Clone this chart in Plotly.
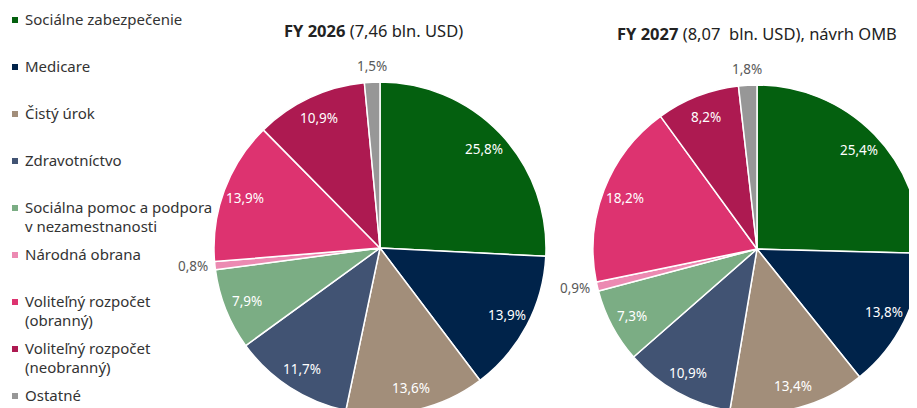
import math
import plotly.graph_objects as go

categories = [
    "Sociálne zabezpečenie",
    "Medicare",
    "Čistý úrok",
    "Zdravotníctvo",
    "Sociálna pomoc a podpora<br>v nezamestnanosti",
    "Národná obrana",
    "Voliteľný rozpočet<br>(obranný)",
    "Voliteľný rozpočet<br>(neobranný)",
    "Ostatné",
]
fy2026 = [25.8, 13.9, 13.6, 11.7, 7.9, 0.8, 13.9, 10.9, 1.5]
fy2027 = [25.4, 13.8, 13.4, 10.9, 7.3, 0.9, 18.2, 8.2, 1.8]
colors = ["#04600F", "#00234A", "#A28E7A", "#415373", "#7BAD84",
          "#EC8AB2", "#DD3370", "#AD1A51", "#979797"]
title_2026 = "<b>FY 2026</b> (7,46 bln. USD)"
title_2027 = "<b>FY 2027</b> (8,07  bln. USD), návrh OMB"

W, H = 917, 408
OFF = 8  # page body margin
FONT = "Noto Sans"


def fx(sx):
    return (sx - OFF) / W


def fy(sy):
    return 1 - (sy - OFF) / H


def dom(cx, cy, r):
    return dict(x=[max(0, fx(cx - r)), min(1, fx(cx + r))],
                y=[max(0, fy(cy + r)), min(1, fy(cy - r))])


fig = go.Figure()
annotations = []
pies = [(fy2026, 380, 248, 166, title_2026, 373, 30),
        (fy2027, 757, 249, 164, title_2027, 757, 33)]
for vals, cx, cy, r, title, tx, ty in pies:
    fig.add_trace(go.Pie(
        labels=categories, values=vals, sort=False, direction="clockwise",
        rotation=0, domain=dom(cx, cy, r), showlegend=False,
        marker=dict(colors=colors, line=dict(color="white", width=1.5)),
        textinfo="none", hoverinfo="label+value",
    ))
    annotations.append(dict(
        text=title, x=fx(tx), y=fy(ty), xref="paper", yref="paper",
        xanchor="center", yanchor="middle", showarrow=False,
        font=dict(family=FONT, size=16.5, color="#222222")))
    # data labels, placed from the slice angles
    total = sum(vals)
    cum = 0.0
    for v in vals:
        mid = (cum + v / 2) / total * 2 * math.pi
        cum += v
        dx, dy = math.sin(mid), -math.cos(mid)
        txt = f"{v:.1f}%".replace(".", ",")
        if v < 2:
            d = r + 5
            xa = "right" if dx < -0.5 else ("left" if dx > 0.5 else "center")
            ya = "bottom" if dy < -0.5 else ("top" if dy > 0.5 else "middle")
            annotations.append(dict(
                text=txt, x=fx(cx + d * dx), y=fy(cy + d * dy),
                xref="paper", yref="paper", xanchor=xa, yanchor=ya,
                showarrow=False,
                font=dict(family=FONT, size=13.5, color="#595959")))
        else:
            d = 0.865 * r
            annotations.append(dict(
                text=txt, x=fx(cx + d * dx), y=fy(cy + d * dy),
                xref="paper", yref="paper", xanchor="center", yanchor="middle",
                showarrow=False,
                font=dict(family=FONT, size=13.5, color="#FFFFFF")))

shapes = []
legend_top = 19
legend_step = 47
line_gap = 18.5
for i, (lab, col) in enumerate(zip(categories, colors)):
    yc = legend_top + i * legend_step
    for k, part in enumerate(lab.split("<br>")):
        annotations.append(dict(
            text=part, x=fx(23), y=fy(yc + k * line_gap), xref="paper", yref="paper",
            xanchor="left", yanchor="middle", align="left", showarrow=False,
            font=dict(family=FONT, size=15, color="#333333")))
    shapes.append(dict(type="rect", xref="paper", yref="paper",
                       x0=fx(12), x1=fx(18), y0=fy(yc + 4), y1=fy(yc - 2),
                       fillcolor=col, line=dict(width=0)))

fig.update_layout(
    width=W, height=H, margin=dict(l=0, r=0, t=0, b=0),
    paper_bgcolor="white", plot_bgcolor="white",
    annotations=annotations, shapes=shapes,
    font=dict(family=FONT),
)
fig.write_html("out.html")
